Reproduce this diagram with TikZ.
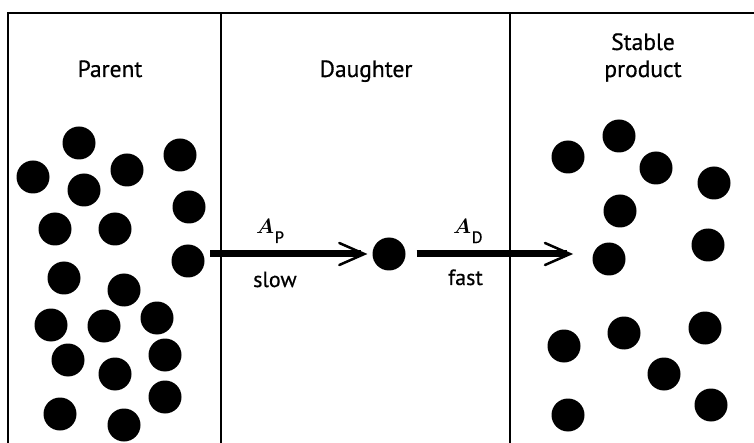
\documentclass[tikz,border=0pt]{standalone}
\usepackage{amsmath}
\usepackage{fontspec}
\setmainfont{PT Sans}[UprightFeatures={FakeBold=0.6}]
\newcommand{\ratesym}[1]{\fontsize{21}{21}\selectfont$\boldsymbol{A}$\kern0.5pt\raisebox{-9pt}{\fontsize{16.5}{16.5}\selectfont #1}}
\begin{document}
\begin{tikzpicture}[x=1pt,y=-1pt,
  dot/.style={circle,fill=black,draw=none,minimum size=33pt,inner sep=0pt},
  frame/.style={line width=2pt},
  hd/.style={font=\fontsize{23.5}{26}\selectfont,inner sep=0pt,anchor=base,align=center},
  lbl/.style={font=\fontsize{22}{24}\selectfont,inner sep=0pt,anchor=base west},
  ratelbl/.style={inner sep=0pt,anchor=base west},
  shaft/.style={line width=7pt},
  barb/.style={line width=2.5pt,line cap=round,line join=miter}]
\useasboundingbox (0,0) rectangle (754,443);
\fill[white] (0,0) rectangle (754,443);
% frame
\coordinate (bl) at (8,443);
\coordinate (tl) at (8,13);
\coordinate (tr) at (754,13);
\coordinate (d1t) at (221,13);
\coordinate (d1b) at (221,443);
\coordinate (d2t) at (510,13);
\coordinate (d2b) at (510,443);
\draw[frame] (bl) -- (tl) -- (tr);
\draw[frame] (d1t) -- (d1b);
\draw[frame] (d2t) -- (d2b);
% headings
\node[hd] (hP) at (110,77) {Parent};
\node[hd] (hD) at (366,77) {Daughter};
\node[hd] (hS1) at (643,50) {Stable};
\node[hd] (hS2) at (643,77) {product};
% parent dots
\foreach \x/\y [count=\i] in {79/143,33/177,127/170,180/155,84/190,189/207,55/229,115/229,188/261,64/278,124/290,51/325,104/326,157/318,68/360,165/355,115/374,60/414,124/425,165/397}
  \node[dot] (p\i) at (\x,\y) {};
% daughter
\node[dot] (dd) at (389,254) {};
% stable dots
\foreach \x/\y [count=\i] in {568/157,619/136,656/168,714/183,620/211,609/259,708/245,564/346,624/333,705/328,664/374,568/415,711/405}
  \node[dot] (s\i) at (\x,\y) {};
% arrows
\coordinate (a1s) at (210,254);
\coordinate (a1e) at ([xshift=-8pt]dd.west);
\coordinate (a2s) at ([xshift=11pt]dd.east);
\coordinate (a2e) at (570,254);
\draw[shaft] (a1s) -- ([xshift=-3pt]a1e);
\draw[barb] ([xshift=-25pt,yshift=-11pt]a1e) -- (a1e) -- ([xshift=-25pt,yshift=11pt]a1e);
\draw[shaft] (a2s) -- ([xshift=-3pt]a2e);
\draw[barb] ([xshift=-25pt,yshift=-11pt]a2e) -- (a2e) -- ([xshift=-25pt,yshift=11pt]a2e);
% labels
\node[ratelbl] (ap) at (256,234) {\ratesym{P}};
\node[lbl] (slow) at (253,287) {slow};
\node[ratelbl] (ad) at (453,234) {\ratesym{D}};
\node[lbl] (fast) at (448,285) {fast};
\end{tikzpicture}
\end{document}
